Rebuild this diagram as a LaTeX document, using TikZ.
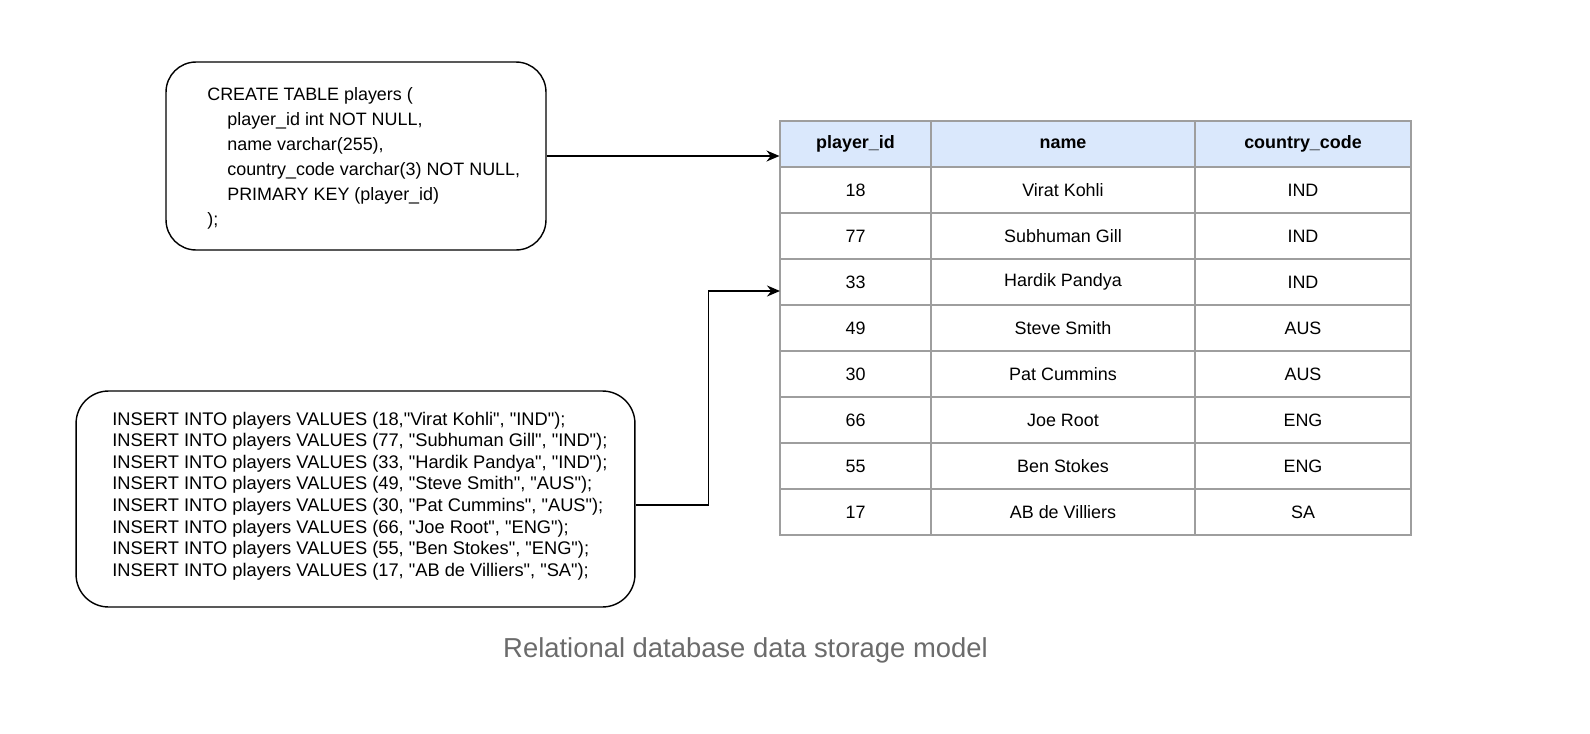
\documentclass[tikz,border=0pt]{standalone}
\usepackage{fontspec}
\setmainfont{Liberation Sans}[Ligatures=TeXOff]
\usepackage{tikz}
\usetikzlibrary{arrows.meta,calc,positioning}
\definecolor{headblue}{HTML}{DAE8FC}
\definecolor{gridgray}{HTML}{9E9E9E}
\definecolor{capgray}{HTML}{6B6B6B}
\tikzset{%
	codebox/.style  = {draw, rounded corners=0.6cm, line width=0.8pt},
	codetext/.style = {anchor=west, align=left, inner sep=0pt},
	cell/.style     = {draw=gridgray, line width=0.6pt, minimum height=0.92cm, inner sep=0pt, font=\fontsize{10.2}{12}\selectfont},
	headcell/.style = {cell, fill=headblue, font=\fontsize{10.2}{12}\selectfont\bfseries},
	arrow/.style    = {line width=0.8pt, -{Stealth[length=0.26cm, width=0.22cm]}},
}

\begin{document}
\begin{tikzpicture}[x=0.02cm,y=-0.02cm]
	\useasboundingbox (0,0) rectangle (1590,734);
	
	% code boxes
	\node[codebox, minimum width=7.6cm, minimum height=3.76cm] (create) at (356,156) {};
	\node[codetext, font=\fontsize{10.2}{14.2}\selectfont] (createtxt) at (207,158) {CREATE TABLE players (\\
		\hspace*{0.4cm}player\_id int NOT NULL,\\
		\hspace*{0.4cm}name varchar(255),\\
		\hspace*{0.4cm}country\_code varchar(3) NOT NULL,\\
		\hspace*{0.4cm}PRIMARY KEY (player\_id)\\
		);};
	
	\node[codebox, rounded corners=0.65cm, minimum width=11.18cm, minimum height=4.32cm] (insert) at (355.5,499) {};
	\node[codetext, font=\fontsize{10.4}{12.3}\selectfont] (inserttxt) at (112,496) {INSERT INTO players VALUES (18,"Virat Kohli", "IND");\\
		INSERT INTO players VALUES (77, "Subhuman Gill", "IND");\\
		INSERT INTO players VALUES (33, "Hardik Pandya", "IND");\\
		INSERT INTO players VALUES (49, "Steve Smith", "AUS");\\
		INSERT INTO players VALUES (30, "Pat Cummins", "AUS");\\
		INSERT INTO players VALUES (66, "Joe Root", "ENG");\\
		INSERT INTO players VALUES (55, "Ben Stokes", "ENG");\\
		INSERT INTO players VALUES (17, "AB de Villiers", "SA");};
	
	% table
	\node[headcell, minimum width=3.02cm] (pid0) at (855.5,144) {player\_id};
	\node[headcell, minimum width=5.28cm] (name0) at (1063,144) {name};
	\node[headcell, minimum width=4.32cm] (cc0) at (1303,144) {country\_code};
	\foreach \pid/\pname/\cc [count=\i] in {18/Virat Kohli/IND, 77/Subhuman Gill/IND, 33/Hardik Pandya/IND, 49/Steve Smith/AUS, 30/Pat Cummins/AUS, 66/Joe Root/ENG, 55/Ben Stokes/ENG, 17/AB de Villiers/SA}{
		\node[cell, minimum width=3.02cm] (pid\i) at (855.5,{144+46*\i}) {\pid};
		\node[cell, minimum width=5.28cm] (name\i) at (1063,{144+46*\i}) {\pname};
		\node[cell, minimum width=4.32cm] (cc\i) at (1303,{144+46*\i}) {\cc};
	}
	
	% connectors
	\coordinate (entry) at (780,291);
	\draw[arrow] (create.east) -- (create.east -| pid0.west);
	\draw[arrow] ($(insert.east)+(0,6)$) -- ++(73,0) |- (entry);
	
	\node[font=\fontsize{15.6}{18}\selectfont, text=capgray] (caption) at (745.5,650) {Relational database data storage model};
\end{tikzpicture}
\end{document}
